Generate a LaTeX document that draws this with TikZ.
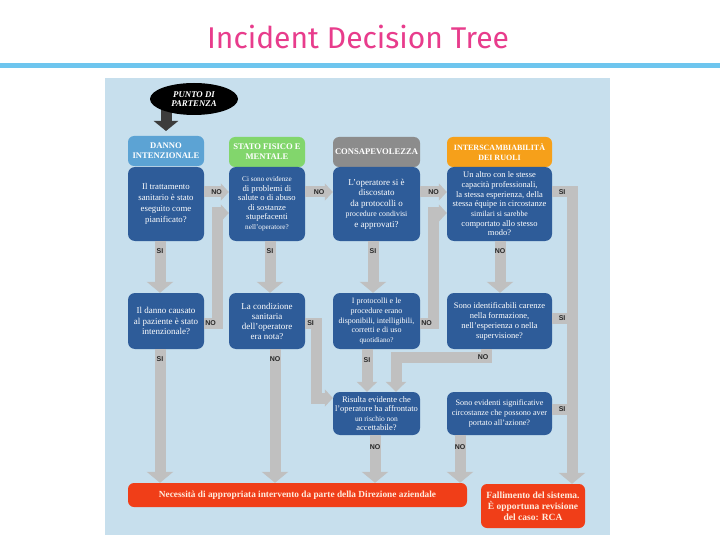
\documentclass[tikz,border=0pt]{standalone}
\usepackage{fontspec}
\setmainfont{Liberation Serif}
\setsansfont{Liberation Sans}
\newfontfamily\titlefont{Fira Sans}
\usetikzlibrary{arrows.meta,shapes.geometric}

\definecolor{panel}{RGB}{199,223,237}
\definecolor{qblue}{RGB}{46,92,153}
\definecolor{hblue}{RGB}{92,163,212}
\definecolor{hgreen}{RGB}{130,214,108}
\definecolor{hgray}{RGB}{140,140,140}
\definecolor{horange}{RGB}{246,160,26}
\definecolor{redbox}{RGB}{240,62,24}
\definecolor{cgray}{RGB}{192,192,192}
\definecolor{darkarrow}{RGB}{60,60,60}
\definecolor{titlepink}{RGB}{232,60,140}
\definecolor{lineblue}{RGB}{110,197,238}
\definecolor{pale}{RGB}{255,236,222}

\begin{document}
\begin{tikzpicture}[x=1pt,y=-1pt,
  qbox/.style={rectangle, rounded corners=7pt, fill=qblue, text=white, align=center, inner sep=1pt, font=\fontsize{8.5}{10}\selectfont},
  hbox/.style={rectangle, rounded corners=6pt, text=white, align=center, inner sep=1pt, font=\fontsize{8.6}{10}\selectfont\bfseries, minimum height=30pt},
  rbox/.style={rectangle, rounded corners=6pt, fill=redbox, text=pale, align=center, inner sep=1pt},
  conn/.style={draw=cgray, line width=11pt},
  bighead/.style={-{Triangle[width=26pt,length=11pt]}},
  midhead/.style={-{Triangle[width=20pt,length=10pt]}},
  smallhead/.style={-{Triangle[width=17pt,length=8pt]}},
  lbl/.style={font=\sffamily\bfseries\fontsize{7}{8}\selectfont, inner sep=0pt, text=black!85},
]
\useasboundingbox (0,0) rectangle (720,540);
\fill[white] (0,0) rectangle (720,540);

% title and rule
\node[font=\titlefont\fontsize{30}{34}\selectfont, text=titlepink] (title) at (358,37) {Incident Decision Tree};
\fill[lineblue] (0,63) rectangle (720,68);

% panel
\fill[panel] (105,78) rectangle (610,535);

% start
\draw[darkarrow, line width=11pt, -{Triangle[width=24pt,length=10pt]}] (166,100) -- (166,131);
\node[ellipse, fill=black, minimum width=88pt, minimum height=32pt, inner sep=0pt, text=white,
  font=\fontsize{8.8}{9.8}\selectfont\bfseries\itshape, align=center] (start) at (194,99) {PUNTO DI\\PARTENZA};

% headers
\node[hbox, fill=hblue, minimum width=76pt] (h1) at (166,151) {DANNO\\INTENZIONALE};
\node[hbox, fill=hgreen, minimum width=76pt] (h2) at (267,152) {STATO FISICO E\\MENTALE};
\node[hbox, fill=hgray, minimum width=87pt] (h3) at (376.5,152) {CONSAPEVOLEZZA};
\node[hbox, fill=horange, minimum width=105pt, font=\fontsize{8}{10}\selectfont\bfseries] (h4) at (499.5,152) {INTERSCAMBIABILITÀ\\DEI RUOLI};

% row 1
\node[qbox, minimum width=76pt, minimum height=74pt, font=\fontsize{8.8}{11}\selectfont] (q11) at (166,204) {Il trattamento\\sanitario è stato\\eseguito come\\pianificato?};
\node[qbox, minimum width=76pt, minimum height=74pt, font=\fontsize{8.6}{9.5}\selectfont] (q12) at (267,204) {{\fontsize{7.2}{9.5}\selectfont Ci sono evidenze}\\di problemi di\\salute o di abuso\\di sostanze\\stupefacenti\\{\fontsize{7.2}{9.5}\selectfont nell’operatore?}};
\node[qbox, minimum width=87pt, minimum height=74pt, font=\fontsize{9}{10.5}\selectfont] (q13) at (376.5,204) {L’operatore si è\\discostato\\da protocolli o\\{\fontsize{7.8}{10.5}\selectfont procedure condivisi}\\e approvati?};
\node[qbox, minimum width=105pt, minimum height=74pt, font=\fontsize{8.5}{9.7}\selectfont] (q14) at (499.5,204) {Un altro con le stesse\\capacità professionali,\\la stessa esperienza, della\\stessa équipe in circostanze\\{\fontsize{7.8}{9.7}\selectfont similari si sarebbe}\\comportato allo stesso\\modo?};

% row 2
\node[qbox, minimum width=76pt, minimum height=56pt, font=\fontsize{9}{10.5}\selectfont] (q21) at (166,321) {Il danno causato\\al paziente è stato\\intenzionale?};
\node[qbox, minimum width=76pt, minimum height=56pt, font=\fontsize{9}{10}\selectfont] (q22) at (267,321) {La condizione\\sanitaria\\dell’operatore\\era nota?};
\node[qbox, minimum width=87pt, minimum height=56pt, font=\fontsize{8}{9.7}\selectfont] (q23) at (376.5,321) {I protocolli e le\\procedure erano\\disponibili, intelligibili,\\corretti e di uso\\{\fontsize{7.2}{9.7}\selectfont quotidiano?}};
\node[qbox, minimum width=105pt, minimum height=56pt, font=\fontsize{8.5}{10}\selectfont] (q24) at (499.5,321) {Sono identificabili carenze\\nella formazione,\\nell’esperienza o nella\\supervisione?};

% row 3
\node[qbox, minimum width=87pt, minimum height=43pt, font=\fontsize{8.5}{9.5}\selectfont] (q33) at (376.5,413.5) {Risulta evidente che\\l’operatore ha affrontato\\{\fontsize{7.5}{9.5}\selectfont un rischio non}\\accettabile?};
\node[qbox, minimum width=105pt, minimum height=43pt, font=\fontsize{8.2}{9.8}\selectfont] (q34) at (499.5,413.5) {Sono evidenti significative\\circostanze che possono aver\\portato all’azione?};

% outcomes
\node[rbox, minimum width=339pt, minimum height=24pt, font=\fontsize{9.3}{11}\selectfont\bfseries] (r1) at (297.5,495) {Necessità di appropriata intervento da parte della Direzione aziendale};
\node[rbox, minimum width=104pt, minimum height=44pt, font=\fontsize{9.5}{11}\selectfont\bfseries] (r2) at (533,506) {Fallimento del sistema.\\È opportuna revisione\\del caso: RCA};

% vertical connectors
\draw[conn, bighead] (q11.south -| 160,0) -- node[lbl, pos=0.2] (l1) {SI} (q21.north -| 160,0);
\draw[conn, bighead] (q21.south -| 160,0) -- node[lbl, pos=0.075] (l2) {SI} (r1.north -| 160,0);
\draw[conn, bighead] (q12.south -| 270,0) -- node[lbl, pos=0.2] (l3) {SI} (q22.north -| 270,0);
\draw[conn, bighead] (q22.south -| 275,0) -- node[lbl, pos=0.075] (l4) {NO} (r1.north -| 275,0);
\draw[conn, bighead] (q13.south -| 373,0) -- node[lbl, pos=0.2] (l5) {SI} (q23.north -| 373,0);
\draw[conn, midhead] (q23.south -| 367,0) -- node[lbl, pos=0.25] (l6) {SI} (q33.north -| 367,0);
\draw[conn, bighead] (q14.south -| 500,0) -- node[lbl, pos=0.2] (l7) {NO} (q24.north -| 500,0);
\draw[conn, bighead] (q33.south -| 375,0) -- node[lbl, pos=0.25] (l8) {NO} (r1.north -| 375,0);
\draw[conn, bighead] (q34.south -| 460,0) -- node[lbl, pos=0.25] (l9) {NO} (r1.north -| 460,0);

% horizontal connectors row 1
\draw[conn, smallhead] (q11.east |- 0,192) -- node[lbl] (l10) {NO} (q12.west |- 0,192);
\draw[conn, smallhead] (q12.east |- 0,192) -- node[lbl] (l11) {NO} (q13.west |- 0,192);
\draw[conn, smallhead] (q13.east |- 0,192) -- node[lbl] (l12) {NO} (q14.west |- 0,192);

% right trunk to failure
\draw[conn, bighead] (q14.east |- 0,192) -- node[lbl] (l13) {SI} (572,192) -- (r2.north -| 572,0);
\draw[conn] (q24.east |- 0,318) -- node[lbl] (l14) {SI} (572,318);
\draw[conn] (q34.east |- 0,409) -- node[lbl] (l15) {SI} (572,409);

% bent connectors
\draw[conn, smallhead] (q21.east |- 0,323) -- node[lbl] (l16) {NO} (217,323) -- (217,213) -- (q12.west |- 0,213);
\draw[conn, smallhead] (q22.east |- 0,323) -- node[lbl] (l17) {SI} (316,323) -- (316,398) -- (q33.west |- 0,398);
\draw[conn, smallhead] (q23.east |- 0,323) -- node[lbl] (l18) {NO} (433,323) -- (433,213) -- (q14.west |- 0,213);
\draw[conn, midhead] (q24.south -| 486,0) -- (486,357.5) -- (396,357.5) -- (q33.north -| 396,0);
\node[lbl] (l19) at (483,357) {NO};

\end{tikzpicture}
\end{document}
